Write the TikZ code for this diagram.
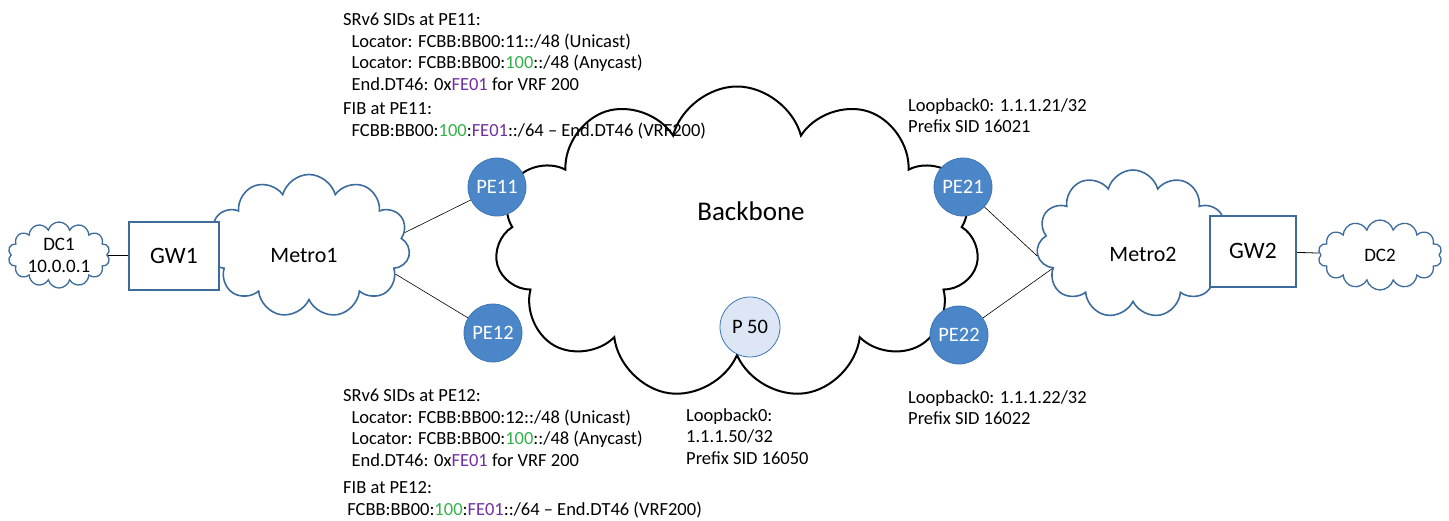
\documentclass[tikz,border=0pt]{standalone}
\usepackage{fontspec}
\setmainfont{Carlito}
\usetikzlibrary{positioning,shapes.symbols}
\definecolor{peblue}{HTML}{4A86C8}
\definecolor{peedge}{HTML}{3F76B4}
\definecolor{pfill}{HTML}{DCE6F4}
\definecolor{cloudblue}{HTML}{3D6C9C}
\definecolor{sidgreen}{HTML}{34B04A}
\definecolor{sidpurple}{HTML}{7030A0}
\newcommand{\anyc}[1]{\textcolor{sidgreen}{#1}}
\newcommand{\fnc}[1]{\textcolor{sidpurple}{#1}}

\begin{document}
\begin{tikzpicture}
		[x=1pt,y=-1pt,
		metro/.style={cloud,cloud puffs=11,cloud ignores aspect,draw=cloudblue,line width=1.6pt,fill=white,inner sep=0},
		gwbox/.style={draw=cloudblue,line width=2pt,fill=white,inner sep=0},
		pe/.style={circle,fill=peblue,draw=peedge,line width=0.8pt,minimum size=58pt,inner sep=0,text=white,font=\fontsize{20.5}{22}\selectfont},
		info/.style={anchor=north west,inner sep=0,align=left,font=\fontsize{18.5}{21.5}\selectfont}]
		\useasboundingbox (0,0) rectangle (1449,520);
		
		% backbone
		\node[cloud,cloud puffs=11,cloud ignores aspect,draw,line width=2pt,fill=white,minimum width=484pt,minimum height=313pt] (bb) at (737,243) {};
		\node[font=\fontsize{27}{30}\selectfont] (bbtxt) at (751,211) {Backbone};
		
		% metro clouds and gateways
		\node[metro,minimum width=202pt,minimum height=143pt] (metro1) at (309,246) {};
		\node[font=\fontsize{22}{24}\selectfont] (m1txt) at (304,255) {Metro1};
		\node[metro,minimum width=193pt,minimum height=148pt] (metro2) at (1133,244) {};
		\node[font=\fontsize{22}{24}\selectfont] (m2txt) at (1143,254) {Metro2};
		\node[metro,cloud puffs=14,line width=1.3pt,minimum width=102pt,minimum height=66pt,align=center,font=\fontsize{19}{22}\selectfont] (dc1) at (59,255) {DC1\\10.0.0.1};
		\node[metro,cloud puffs=14,line width=1.3pt,minimum width=124pt,minimum height=70pt,font=\fontsize{19}{22}\selectfont] (dc2) at (1380,255) {DC2};
		\node[gwbox,minimum width=90pt,minimum height=68pt,font=\fontsize{23.5}{26}\selectfont] (gw1) at (174,256) {GW1};
		\node[gwbox,minimum width=86pt,minimum height=71pt,font=\fontsize{23.5}{26}\selectfont] (gw2) at (1253,251) {GW2};
		
		% routers
		\node[pe] (pe11) at (497,187) {PE11};
		\node[pe] (pe12) at (493,333) {PE12};
		\node[pe] (pe21) at (963,187) {PE21};
		\node[pe] (pe22) at (959,335) {PE22};
		\node[circle,fill=pfill,draw=peedge,line width=0.8pt,minimum size=60pt,inner sep=0,font=\fontsize{20.5}{22}\selectfont] (p50) at (750,327) {P 50};
		
		\draw[line width=0.8pt] (dc1) -- (gw1);
		\draw[line width=0.8pt] (gw2) -- (dc2);
		\draw[line width=0.6pt] (metro1.8) -- (pe11);
		\draw[line width=0.6pt] (metro1.-18) -- (pe12);
		\draw[line width=0.6pt] (pe21) -- (metro2.187);
		\draw[line width=0.6pt] (pe22) -- (metro2.197);
		
		% labels
		\node[info] (sid11) at (343,13) {SRv6 SIDs at PE11:\\
			\ \ Locator: FCBB:BB00:11::/48 (Unicast)\\
			\ \ Locator: FCBB:BB00:\anyc{100}::/48 (Anycast)\\
			\ \ End.DT46: 0x\fnc{FE01} for VRF 200\\[3pt]
			FIB at PE11:\\
			\ \ FCBB:BB00:\anyc{100}:\fnc{FE01}::/64 -- End.DT46 (VRF200)};
		\node[info] (sid12) at (343,389) {SRv6 SIDs at PE12:\\
			\ \ Locator: FCBB:BB00:12::/48 (Unicast)\\
			\ \ Locator: FCBB:BB00:\anyc{100}::/48 (Anycast)\\
			\ \ End.DT46: 0x\fnc{FE01} for VRF 200\\[6pt]
			FIB at PE12:\\
			\ FCBB:BB00:\anyc{100}:\fnc{FE01}::/64 -- End.DT46 (VRF200)};
		\node[info] (lo21) at (908,98) {Loopback0: 1.1.1.21/32\\Prefix SID 16021};
		\node[info] (lo22) at (908,390) {Loopback0: 1.1.1.22/32\\Prefix SID 16022};
		\node[info] (lo50) at (686,408) {Loopback0:\\1.1.1.50/32\\Prefix SID 16050};
		
\end{tikzpicture}
\end{document}
